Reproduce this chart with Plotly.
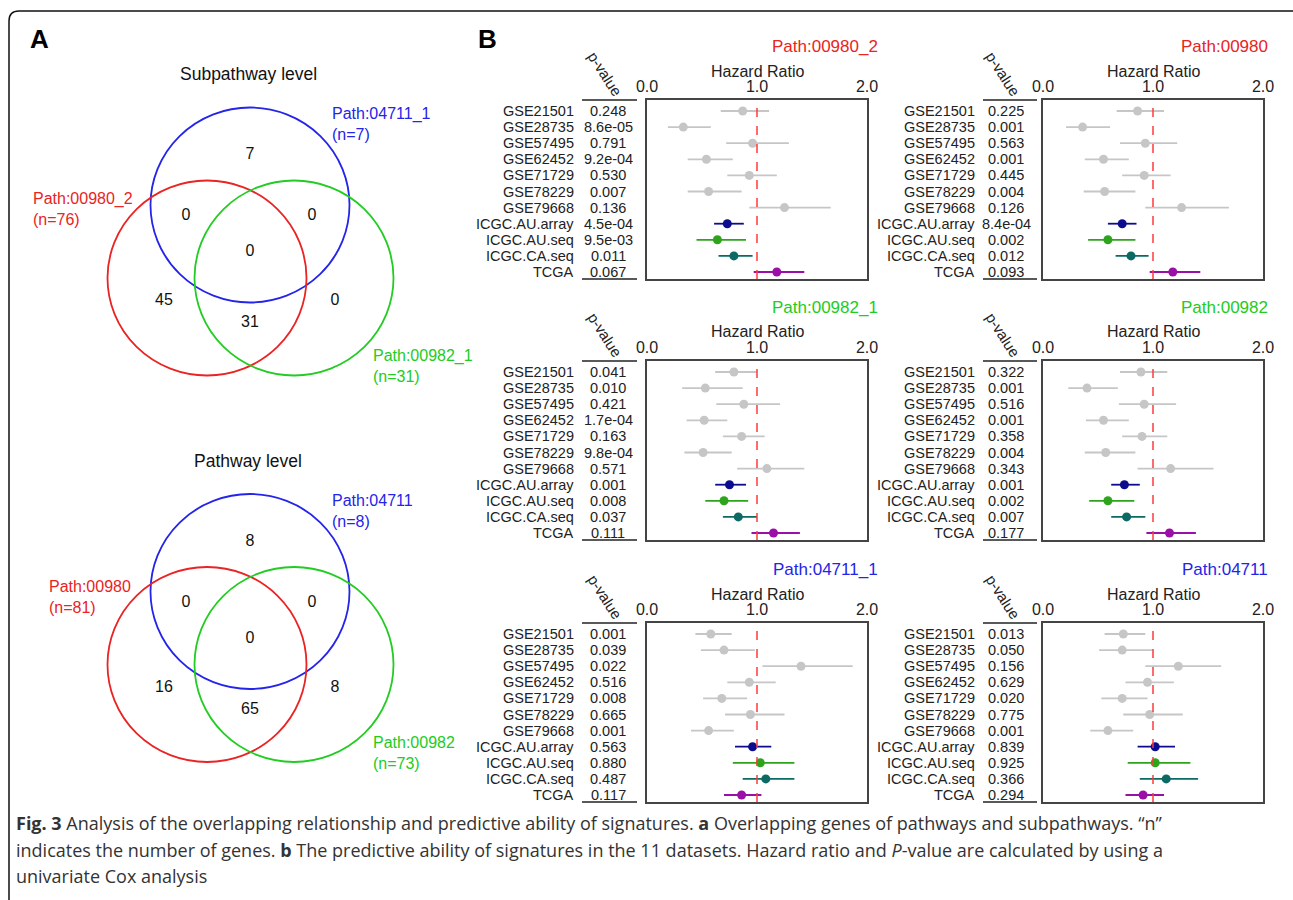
import plotly.graph_objects as go

W, H = 1293, 900
def px(x): return x / W
def py(y): return 1 - y / H

# ---------------- data ----------------
datasets = ["GSE21501", "GSE28735", "GSE57495", "GSE62452", "GSE71729", "GSE78229",
            "GSE79668", "ICGC.AU.array", "ICGC.AU.seq", "ICGC.CA.seq", "TCGA"]

panel_titles = ["Path:00980_2", "Path:00980", "Path:00982_1", "Path:00982", "Path:04711_1", "Path:04711"]

hr_00980_2 = [0.87, 0.33, 0.96, 0.54, 0.93, 0.56, 1.25, 0.73, 0.64, 0.79, 1.18]
lo_00980_2 = [0.67, 0.19, 0.72, 0.37, 0.73, 0.37, 0.93, 0.61, 0.45, 0.65, 0.97]
hi_00980_2 = [1.11, 0.58, 1.29, 0.78, 1.18, 0.86, 1.67, 0.88, 0.90, 0.96, 1.43]
p_00980_2 = ["0.248", "8.6e-05", "0.791", "9.2e-04", "0.530", "0.007", "0.136", "4.5e-04", "9.5e-03", "0.011", "0.067"]

hr_00980 = [0.86, 0.36, 0.93, 0.55, 0.92, 0.56, 1.26, 0.72, 0.59, 0.80, 1.18]
lo_00980 = [0.67, 0.21, 0.70, 0.38, 0.72, 0.37, 0.93, 0.59, 0.41, 0.66, 0.97]
hi_00980 = [1.10, 0.61, 1.22, 0.78, 1.16, 0.84, 1.69, 0.85, 0.84, 0.96, 1.43]
p_00980 = ["0.225", "0.001", "0.563", "0.001", "0.445", "0.004", "0.126", "8.4e-04", "0.002", "0.012", "0.093"]

hr_00982_1 = [0.79, 0.53, 0.88, 0.52, 0.86, 0.51, 1.09, 0.75, 0.70, 0.83, 1.15]
lo_00982_1 = [0.62, 0.32, 0.63, 0.36, 0.69, 0.34, 0.82, 0.62, 0.53, 0.69, 0.95]
hi_00982_1 = [1.00, 0.87, 1.21, 0.73, 1.07, 0.77, 1.43, 0.90, 0.92, 1.00, 1.39]
p_00982_1 = ["0.041", "0.010", "0.421", "1.7e-04", "0.163", "9.8e-04", "0.571", "0.001", "0.008", "0.037", "0.111"]

hr_00982 = [0.89, 0.40, 0.92, 0.55, 0.90, 0.57, 1.16, 0.74, 0.59, 0.76, 1.15]
lo_00982 = [0.70, 0.23, 0.69, 0.39, 0.72, 0.38, 0.86, 0.62, 0.42, 0.62, 0.94]
hi_00982 = [1.13, 0.68, 1.21, 0.78, 1.13, 0.84, 1.55, 0.88, 0.83, 0.93, 1.39]
p_00982 = ["0.322", "0.001", "0.516", "0.001", "0.358", "0.004", "0.343", "0.001", "0.002", "0.007", "0.177"]

hr_04711_1 = [0.58, 0.70, 1.40, 0.93, 0.68, 0.94, 0.56, 0.96, 1.03, 1.08, 0.86]
lo_04711_1 = [0.44, 0.49, 1.05, 0.73, 0.51, 0.71, 0.40, 0.80, 0.78, 0.87, 0.70]
hi_04711_1 = [0.77, 0.98, 1.87, 1.17, 0.91, 1.25, 0.79, 1.13, 1.34, 1.34, 1.04]
p_04711_1 = ["0.001", "0.039", "0.022", "0.516", "0.008", "0.665", "0.001", "0.563", "0.880", "0.487", "0.117"]

hr_04711 = [0.73, 0.72, 1.23, 0.95, 0.72, 0.97, 0.59, 1.02, 1.02, 1.12, 0.91]
lo_04711 = [0.56, 0.51, 0.93, 0.75, 0.53, 0.73, 0.43, 0.86, 0.77, 0.88, 0.75]
hi_04711 = [0.93, 1.00, 1.62, 1.19, 0.95, 1.27, 0.82, 1.20, 1.34, 1.41, 1.10]
p_04711 = ["0.013", "0.050", "0.156", "0.629", "0.020", "0.775", "0.001", "0.839", "0.925", "0.366", "0.294"]

# Venn data
venn_titles = ["Subpathway level", "Pathway level"]
venn_sets_sub = ["Path:04711_1", "Path:00980_2", "Path:00982_1"]
venn_n_sub = [7, 76, 31]
venn_counts_sub = [7, 0, 0, 0, 45, 31, 0]
venn_sets_path = ["Path:04711", "Path:00980", "Path:00982"]
venn_n_path = [8, 81, 73]
venn_counts_path = [8, 0, 0, 0, 16, 65, 8]

# ---------------- styles ----------------
RED, GREEN, BLUE = "#ea2323", "#22cc22", "#2424ea"
title_colors = [RED, RED, GREEN, GREEN, BLUE, BLUE]
row_colors = ["#c6c6c6"] * 7 + ["#0c0c8e", "#2ea41c", "#0b6a64", "#9a10a6"]
FONT = "Liberation Sans, Arial, sans-serif"

panels = [
    (hr_00980_2, lo_00980_2, hi_00980_2, p_00980_2),
    (hr_00980, lo_00980, hi_00980, p_00980),
    (hr_00982_1, lo_00982_1, hi_00982_1, p_00982_1),
    (hr_00982, lo_00982, hi_00982, p_00982),
    (hr_04711_1, lo_04711_1, hi_04711_1, p_04711_1),
    (hr_04711, lo_04711, hi_04711, p_04711),
]

fig = go.Figure()
annotations = []
shapes = []

box_left = [647, 1043]
label_right = [576, 977]
pval_center = [608, 1006]
line_span = [(582, 637), (983, 1037)]
title_right = [880, 1270]
box_top = [100, 361, 623]
BOX_W, BOX_H = 220, 179
ROW_S = 16.1
TOP_OFF = 11

for i, (hr, lo, hi, pv) in enumerate(panels):
    r, c = divmod(i, 2)
    n = i + 1
    xa = "x" if n == 1 else f"x{n}"
    ya = "y" if n == 1 else f"y{n}"
    L, T = box_left[c], box_top[r]
    ytop = -TOP_OFF / ROW_S
    ybot = ytop + BOX_H / ROW_S
    fig.update_layout(**{
        ("xaxis" if n == 1 else f"xaxis{n}"): dict(
            domain=[px(L), px(L + BOX_W)], range=[0, 2], anchor=ya, side="top",
            tickvals=[0, 1, 2], ticktext=["0.0", "1.0", "2.0"], ticks="",
            showgrid=False, zeroline=False, showline=True, mirror=True,
            linecolor="#444", linewidth=1.6,
            tickfont=dict(family=FONT, size=16, color="#222"), fixedrange=True),
        ("yaxis" if n == 1 else f"yaxis{n}"): dict(
            domain=[py(T + BOX_H), py(T)], range=[ybot, ytop], anchor=xa,
            showticklabels=False, ticks="", showgrid=False, zeroline=False,
            showline=True, mirror=True, linecolor="#444", linewidth=1.6, fixedrange=True),
    })
    groups = [list(range(7)), [7], [8], [9], [10]]
    for g in groups:
        col = row_colors[g[0]]
        fig.add_trace(go.Scatter(
            x=[hr[k] for k in g], y=[k for k in g], mode="markers",
            marker=dict(size=9, color=col),
            error_x=dict(type="data", symmetric=False,
                         array=[hi[k] - hr[k] for k in g],
                         arrayminus=[hr[k] - lo[k] for k in g],
                         color=col, thickness=1.8, width=0),
            xaxis=xa, yaxis=ya, showlegend=False, hoverinfo="skip"))
    shapes.append(dict(type="line", xref=xa, yref=f"{ya} domain", x0=1, x1=1, y0=0, y1=1,
                       line=dict(color="#ff3b3b", width=1.5, dash="dash")))
    for k, name in enumerate(datasets):
        annotations.append(dict(text=name, xref="paper", yref=ya, x=px(label_right[c]), y=k,
                                xanchor="right", yanchor="middle", showarrow=False,
                                font=dict(family=FONT, size=14.5, color="#222")))
        annotations.append(dict(text=pv[k], xref="paper", yref=ya, x=px(pval_center[c]), y=k,
                                xanchor="center", yanchor="middle", showarrow=False,
                                font=dict(family=FONT, size=14.5, color="#222")))
    annotations.append(dict(text="p-value", xref="paper", yref="paper",
                            x=px(pval_center[c] - 3), y=py(T - 27), textangle=57,
                            xanchor="center", yanchor="middle", showarrow=False,
                            font=dict(family=FONT, size=15, color="#222")))
    for yy in (T, T + BOX_H):
        shapes.append(dict(type="line", xref="paper", yref="paper",
                           x0=px(line_span[c][0]), x1=px(line_span[c][1]), y0=py(yy), y1=py(yy),
                           line=dict(color="#222", width=1.5)))
    annotations.append(dict(text="Hazard Ratio", xref="paper", yref="paper",
                            x=px(L + BOX_W / 2), y=py(T - 29), xanchor="center", yanchor="middle",
                            showarrow=False, font=dict(family=FONT, size=16, color="#222")))
    annotations.append(dict(text=panel_titles[i], xref="paper", yref="paper",
                            x=px(title_right[c]), y=py(T - 54), xanchor="right", yanchor="middle",
                            showarrow=False, font=dict(family=FONT, size=17, color=title_colors[i])))

# ---------------- Venn diagrams ----------------
fig.update_layout(
    xaxis7=dict(domain=[0, px(480)], range=[0, 480], visible=False, anchor="y7", fixedrange=True),
    yaxis7=dict(domain=[py(810), 1], range=[810, 0], visible=False, anchor="x7", fixedrange=True),
)
venn_blue_centres = [(250, 205), (250, 591.5)]
circle_offsets = [(0, 0), (-43, 73), (44, 73)]   # blue, red, green
circle_colors = [BLUE, RED, GREEN]
region_offsets = [(0, -50), (-64, 11), (62, 11), (0, 47), (-86, 96), (0, 118), (85, 96)]
label_pos = [[(330, 124), (31, 209), (371, 366)], [(330, 511), (47, 597), (371, 753)]]
venn_info = [(venn_sets_sub, venn_n_sub, venn_counts_sub), (venn_sets_path, venn_n_path, venn_counts_path)]
for v, (names, ns, counts) in enumerate(venn_info):
    bx, by = venn_blue_centres[v]
    for j in range(3):
        cx, cy = bx + circle_offsets[j][0], by + circle_offsets[j][1]
        shapes.append(dict(type="circle", xref="x7", yref="y7",
                           x0=cx - 99.5, x1=cx + 99.5, y0=cy - 97.5, y1=cy + 97.5,
                           line=dict(color=circle_colors[j], width=1.8)))
        lx, ly = label_pos[v][j]
        annotations.append(dict(text=f"{names[j]}<br>(n={ns[j]})", xref="x7", yref="y7",
                                x=lx, y=ly, xanchor="left", yanchor="middle", align="left",
                                showarrow=False, font=dict(family=FONT, size=16, color=circle_colors[j])))
    fig.add_trace(go.Scatter(
        x=[bx + o[0] for o in region_offsets], y=[by + o[1] for o in region_offsets],
        text=[str(cn) for cn in counts], mode="text",
        textfont=dict(family=FONT, size=16, color="#111"),
        xaxis="x7", yaxis="y7", showlegend=False, hoverinfo="skip"))
    annotations.append(dict(text=venn_titles[v], xref="x7", yref="y7", x=248, y=by - 131,
                            xanchor="center", yanchor="middle", showarrow=False,
                            font=dict(family=FONT, size=17.5, color="#111")))

# panel letters
annotations.append(dict(text="<b>A</b>", xref="paper", yref="paper", x=px(39), y=py(39),
                        xanchor="center", yanchor="middle",
                        showarrow=False, font=dict(family=FONT, size=26, color="#000")))
annotations.append(dict(text="<b>B</b>", xref="paper", yref="paper", x=px(487), y=py(39),
                        xanchor="center", yanchor="middle",
                        showarrow=False, font=dict(family=FONT, size=26, color="#000")))

# caption
CAP_FONT = "Open Sans, sans-serif"
cap_lines = [
    "<b>Fig. 3</b> Analysis of the overlapping relationship and predictive ability of signatures. <b>a</b> Overlapping genes of pathways and subpathways. \u201cn\u201d",
    "indicates the number of genes. <b>b</b> The predictive ability of signatures in the 11 datasets. Hazard ratio and <i>P</i>-value are calculated by using a",
    "univariate Cox analysis",
]
for k, line in enumerate(cap_lines):
    annotations.append(dict(text=line, xref="paper", yref="paper", x=px(14), y=py(823 + 26.5 * k),
                            xanchor="left", yanchor="middle", showarrow=False,
                            font=dict(family=CAP_FONT, size=18, color="#333")))

# outer rounded border (left and top edges visible)
rr = 10
path = (f"M {px(9)} {py(905)} L {px(9)} {py(11 + rr)} "
        f"Q {px(9)} {py(11)} {px(9 + rr)} {py(11)} L {px(1300)} {py(11)}")
shapes.append(dict(type="path", xref="paper", yref="paper", path=path,
                   line=dict(color="#111", width=1.5)))

fig.update_layout(width=W, height=H, autosize=False,
                  margin=dict(l=0, r=0, t=0, b=0, pad=0, autoexpand=False),
                  paper_bgcolor="white", plot_bgcolor="white",
                  annotations=annotations, shapes=shapes, showlegend=False)
fig.write_html("out.html", config={"displayModeBar": False},
               post_script="document.body.style.margin='0';document.body.style.overflow='hidden';")
